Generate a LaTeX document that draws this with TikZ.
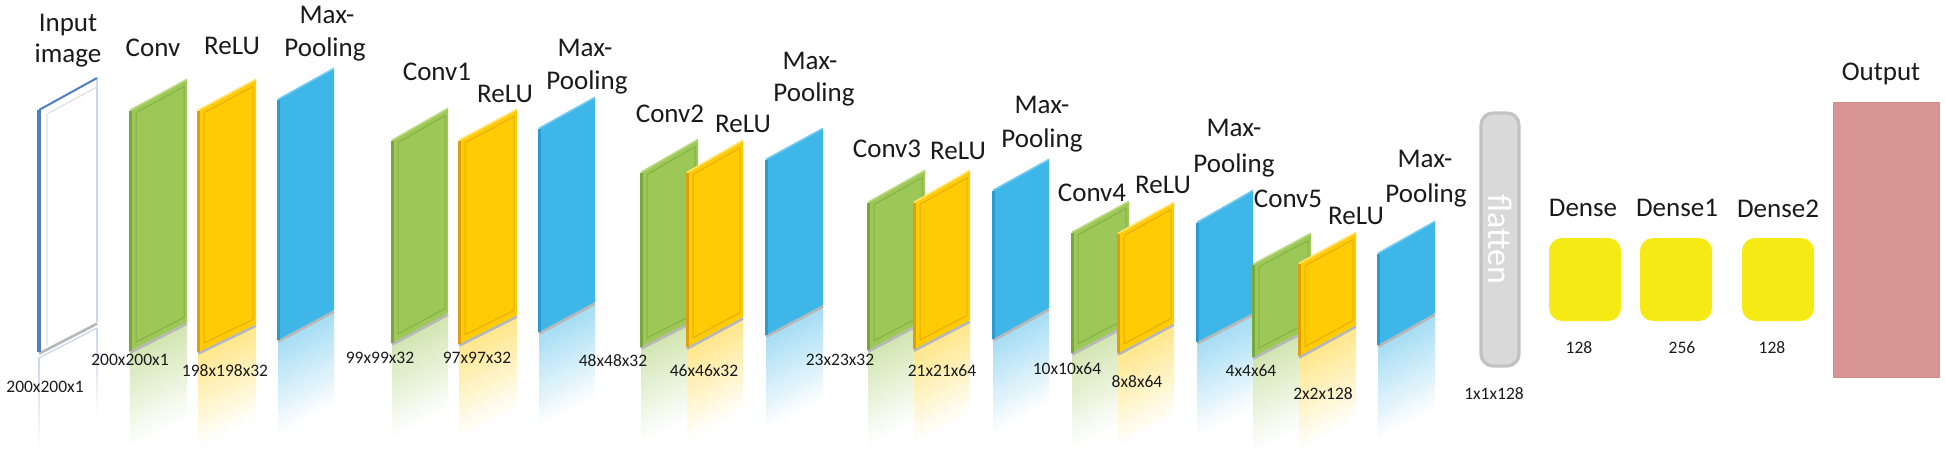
\documentclass[tikz,border=0pt]{standalone}
\usepackage{fontspec}
\setmainfont{Carlito}
\definecolor{cg}{HTML}{9DC858}
\definecolor{cgdark}{HTML}{78A83A}
\definecolor{cghi}{HTML}{B9DB7E}
\definecolor{cy}{HTML}{FFCB05}
\definecolor{cydark}{HTML}{DDA00C}
\definecolor{cyhi}{HTML}{FFE36A}
\definecolor{cb}{HTML}{3FB6E8}
\definecolor{cbdark}{HTML}{2C9BD4}
\definecolor{cbhi}{HTML}{72CCF1}
\definecolor{inblue}{HTML}{4F7FC0}
\definecolor{inlight}{HTML}{C9D6EC}
\definecolor{denseyel}{HTML}{F5EA14}
\definecolor{outpink}{HTML}{D99494}
\definecolor{outdraw}{HTML}{D38A8A}
\definecolor{flatfill}{HTML}{D9D9D9}
\definecolor{flatdraw}{HTML}{C2C2C2}
\definecolor{txt}{HTML}{1A1A1A}
% feature map panel: L R TL TR BL BR colour bevel
\newcommand{\fmap}[8]{%
  \foreach \i in {0,...,14}{%
    \pgfmathtruncatemacro{\tint}{45*(1-\i/15)}%
    \fill[#7!\tint!white] (#1,{#5+3+\i*6}) -- (#2,{#6+3+\i*6}) -- (#2,{#6+9.5+\i*6}) -- (#1,{#5+9.5+\i*6}) -- cycle;
  }%
  \draw[black!28, line width=1.5pt] (#1,{#5+1.5}) -- (#2,{#6+1.5});
  \fill[#7] (#1,#3) -- (#2,#4) -- (#2,#6) -- (#1,#5) -- cycle;
  \draw[#7dark, line width=1.2pt] ({#1+0.6},{#3+1}) -- ({#1+0.6},#5);
  \draw[#7hi, line width=0.8pt] (#1,{#3+0.4}) -- (#2,{#4+0.4});
  \ifnum#8=1
    \draw[#7dark, line width=0.5pt, opacity=0.7]
      ({#1+6},{#3+(#4-#3)*6/(#2-#1)+6}) -- ({#2-3},{#4-(#4-#3)*3/(#2-#1)+6})
      -- ({#2-3},{#6-(#6-#5)*3/(#2-#1)-6}) -- ({#1+6},{#5+(#6-#5)*6/(#2-#1)-6}) -- cycle;
  \fi
}
\tikzset{
  lbl/.style={font=\fontsize{13.5}{16}\selectfont, text=txt, inner sep=0pt, anchor=base},
  dim/.style={font=\fontsize{8.75}{10}\selectfont, text=txt, inner sep=0pt},
  densebox/.style={fill=denseyel, rounded corners=6.5pt, minimum width=36pt, minimum height=41.5pt, inner sep=0pt},
}
\begin{document}
\begin{tikzpicture}[x=0.5pt, y=-0.5pt]
\useasboundingbox (0,0) rectangle (1945,465);
% ---------- input image ----------
\foreach \i in {0,...,14}{%
  \pgfmathtruncatemacro{\tint}{100*(1-\i/15)}%
  \draw[inlight!\tint!white, line width=0.6pt] (39,{358+\i*6}) -- (39,{364.5+\i*6});
  \draw[inlight!\tint!white, line width=0.6pt] (97,{328+\i*6}) -- (97,{334.5+\i*6});
}
\draw[inlight, line width=0.6pt] (39,358) -- (97,328);
\draw[black!28, line width=1.5pt] (39,353.5) -- (97,323.5);
\fill[white] (39,110) -- (97,78) -- (97,322) -- (39,352) -- cycle;
\draw[inlight, line width=0.6pt] (97,78) -- (97,322);
\draw[black!12, line width=0.6pt] (47,345) -- (47,114) -- (97,87);
\draw[inblue, line width=1.6pt] (39,110) -- (39,352);
\draw[inblue, line width=1pt] (39,110) -- (97,78);
% ---------- feature maps ----------
\fmap{130}{187}{110}{79}{351}{322}{cg}{1}
\fmap{198}{256}{110}{79}{352}{324}{cy}{1}
\fmap{278}{334}{99}{68}{340}{310}{cb}{0}
\fmap{392}{448}{140}{108}{343}{313}{cg}{1}
\fmap{459}{517}{140}{109}{344}{315}{cy}{1}
\fmap{539}{595}{128}{97}{332}{302}{cb}{0}
\fmap{641}{698}{172}{139}{347}{318}{cg}{1}
\fmap{687}{743}{172}{140}{347}{317}{cy}{1}
\fmap{766}{823}{159}{128}{335}{305}{cb}{0}
\fmap{868}{925}{202}{170}{350}{320}{cg}{1}
\fmap{914}{970}{202}{170}{349}{320}{cy}{1}
\fmap{993}{1049}{190}{159}{339}{308}{cb}{0}
\fmap{1072}{1129}{232}{201}{353}{323}{cg}{1}
\fmap{1118}{1174}{233}{202}{353}{323}{cy}{1}
\fmap{1197}{1253}{222}{190}{342}{313}{cb}{0}
\fmap{1253}{1311}{264}{233}{357}{327}{cg}{1}
\fmap{1299}{1356}{263}{232}{356}{325}{cy}{1}
\fmap{1378}{1435}{253}{221}{345}{313}{cb}{0}
% ---------- flatten ----------
\node[draw=flatdraw, line width=1.6pt, fill=flatfill, rounded corners=6pt, rotate=-90,
      minimum width=126.5pt, minimum height=19pt, inner sep=0pt,
      text=white, font=\fontsize{17}{20}\selectfont] (flat) at (1500,239.5) {flatten};
% ---------- dense layers ----------
\node[densebox] (d0) at (1585,279.5) {};
\node[densebox] (d1) at (1676,279.5) {};
\node[densebox] (d2) at (1778,279.5) {};
% ---------- output ----------
\node[fill=outpink, draw=outdraw, line width=0.4pt, minimum width=53pt, minimum height=137.5pt, inner sep=0pt] (out) at (1886,239.5) {};
% ---------- titles ----------
\node[lbl] (t-in1) at (68,32) {Input};
\node[lbl] (t-in2) at (68,63) {image};
\node[lbl] (t-c0) at (153,57) {Conv};
\node[lbl] (t-r0) at (232,55) {ReLU};
\node[lbl] (t-m0a) at (327,24) {Max-};
\node[lbl] (t-m0b) at (325,57) {Pooling};
\node[lbl] (t-c1) at (437,81) {Conv1};
\node[lbl] (t-r1) at (505,103) {ReLU};
\node[lbl] (t-m1a) at (585,57) {Max-};
\node[lbl] (t-m1b) at (587,90) {Pooling};
\node[lbl] (t-c2) at (670,123) {Conv2};
\node[lbl] (t-r2) at (743,133) {ReLU};
\node[lbl] (t-m2a) at (810,70) {Max-};
\node[lbl] (t-m2b) at (814,102) {Pooling};
\node[lbl] (t-c3) at (887,157) {Conv3};
\node[lbl] (t-r3) at (958,160) {ReLU};
\node[lbl] (t-m3a) at (1042,114) {Max-};
\node[lbl] (t-m3b) at (1042,148) {Pooling};
\node[lbl] (t-c4) at (1092,202) {Conv4};
\node[lbl] (t-r4) at (1163,193) {ReLU};
\node[lbl] (t-m4a) at (1234,137) {Max-};
\node[lbl] (t-m4b) at (1234,172) {Pooling};
\node[lbl] (t-c5) at (1288,207) {Conv5};
\node[lbl] (t-r5) at (1356,225) {ReLU};
\node[lbl] (t-m5a) at (1425,168) {Max-};
\node[lbl] (t-m5b) at (1426,203) {Pooling};
\node[lbl] (t-d0) at (1583,217) {Dense};
\node[lbl] (t-d1) at (1677,217) {Dense1};
\node[lbl] (t-d2) at (1778,218) {Dense2};
\node[lbl] (t-out) at (1881,81) {Output};
% ---------- dimensions ----------
\node[dim] (s-in) at (45,387) {200x200x1};
\node[dim] (s-c0) at (130,360) {200x200x1};
\node[dim] (s-r0) at (225,371) {198x198x32};
\node[dim] (s-m0) at (380,358) {99x99x32};
\node[dim] (s-c1) at (477,358) {97x97x32};
\node[dim] (s-r1) at (613,361) {48x48x32};
\node[dim] (s-c2) at (704,371) {46x46x32};
\node[dim] (s-m2) at (840,360) {23x23x32};
\node[dim] (s-c3) at (942,371) {21x21x64};
\node[dim] (s-m3) at (1067,369) {10x10x64};
\node[dim] (s-c4) at (1137,382) {8x8x64};
\node[dim] (s-m4) at (1251,371) {4x4x64};
\node[dim] (s-c5) at (1323,394) {2x2x128};
\node[dim] (s-fl) at (1494,394) {1x1x128};
\node[dim] (s-d0) at (1579,348) {128};
\node[dim] (s-d1) at (1682,348) {256};
\node[dim] (s-d2) at (1772,348) {128};
\end{tikzpicture}
\end{document}
